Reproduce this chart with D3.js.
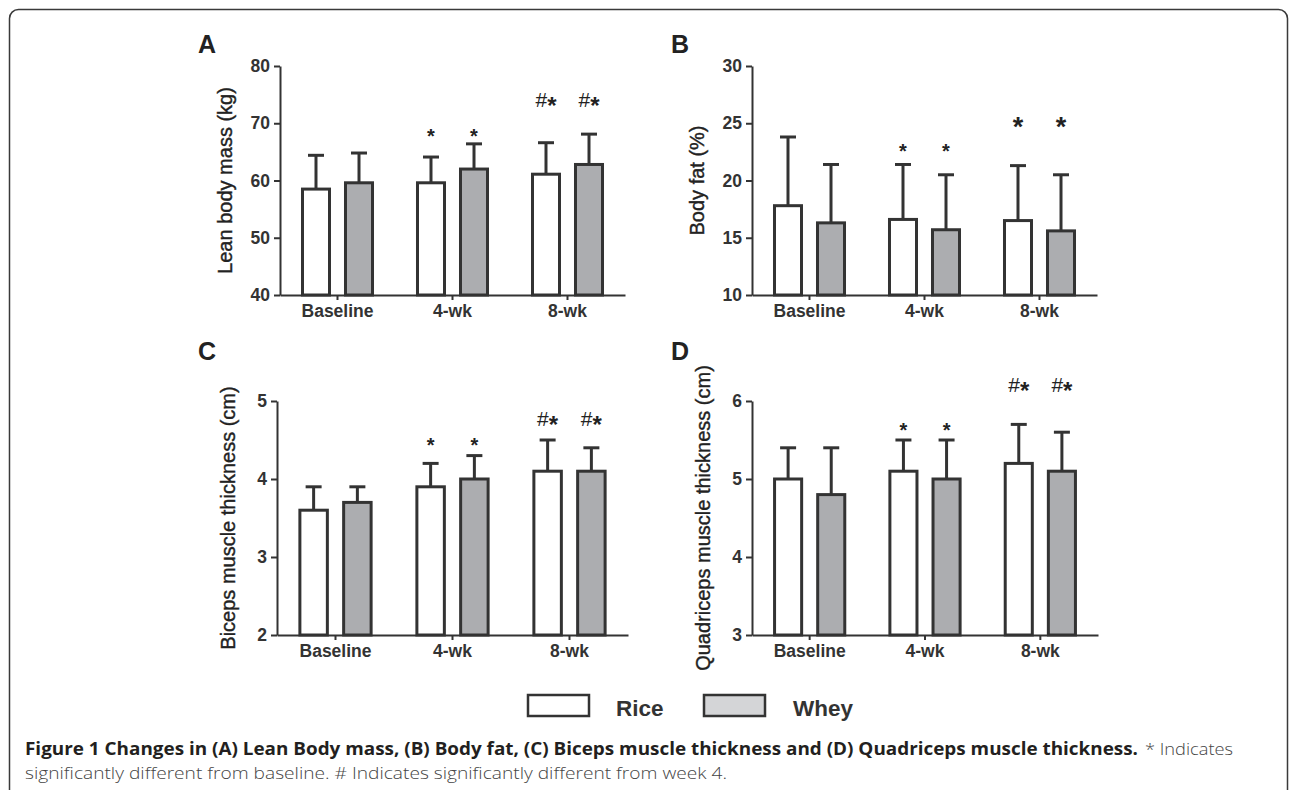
<!DOCTYPE html>
<html lang="en">
<head>
<meta charset="UTF-8">
<title>Figure 1</title>
<script src="https://d3js.org/d3.v7.min.js"></script>
<style>
  body { margin: 0; background: #fff; }
  svg { display: block; }
</style>
</head>
<body>
<svg id="fig" width="1290" height="790"></svg>
<script>
const categories = ["Baseline", "4-wk", "8-wk"];
const groups = ["Rice", "Whey"];

// A: lean body mass (kg)
const leanTicks = [40, 50, 60, 70, 80];
const leanRice = [58.5, 59.6, 61.1];
const leanRiceErr = [5.9, 4.5, 5.5];
const leanWhey = [59.6, 62.0, 62.8];
const leanWheyErr = [5.2, 4.4, 5.3];
const leanMarks = ["", "*", "#*"];
const leanMarkLevels = [null, 66.5, 72.8];

// B: body fat (%)
const fatTicks = [10, 15, 20, 25, 30];
const fatRice = [17.8, 16.6, 16.5];
const fatRiceErr = [6.0, 4.8, 4.8];
const fatWhey = [16.3, 15.7, 15.6];
const fatWheyErr = [5.1, 4.8, 4.9];
const fatMarks = ["", "*", "*"];
const fatMarkLevels = [null, 22.0, 23.9];

// C: biceps muscle thickness (cm)
const bicepsTicks = [2, 3, 4, 5];
const bicepsRice = [3.6, 3.9, 4.1];
const bicepsRiceErr = [0.3, 0.3, 0.4];
const bicepsWhey = [3.7, 4.0, 4.1];
const bicepsWheyErr = [0.2, 0.3, 0.3];
const bicepsMarks = ["", "*", "#*"];
const bicepsMarkLevels = [null, 4.34, 4.68];

// D: quadriceps muscle thickness (cm)
const quadTicks = [3, 4, 5, 6];
const quadRice = [5.0, 5.1, 5.2];
const quadRiceErr = [0.4, 0.4, 0.5];
const quadWhey = [4.8, 5.0, 5.1];
const quadWheyErr = [0.6, 0.5, 0.5];
const quadMarks = ["", "*", "#*"];
const quadMarkLevels = [null, 5.54, 6.12];

const ink = "#333";
const wheyFill = "#acadb0";
const font = "'Liberation Sans', Arial, sans-serif";

const panels = [
  { letter: "A", title: "Lean body mass (kg)", ticks: leanTicks, rice: leanRice, riceErr: leanRiceErr,
    whey: leanWhey, wheyErr: leanWheyErr, marks: leanMarks, levels: leanMarkLevels, starSizes: [0, 20, 24],
    x0: 280, x1: 625, top: 66, bottom: 295, titleX: 225, letterX: 198, letterY: 53 },
  { letter: "B", title: "Body fat (%)", ticks: fatTicks, rice: fatRice, riceErr: fatRiceErr,
    whey: fatWhey, wheyErr: fatWheyErr, marks: fatMarks, levels: fatMarkLevels, starSizes: [0, 20, 27],
    x0: 752, x1: 1097, top: 66, bottom: 295, titleX: 697, letterX: 671, letterY: 53 },
  { letter: "C", title: "Biceps muscle thickness (cm)", ticks: bicepsTicks, rice: bicepsRice, riceErr: bicepsRiceErr,
    whey: bicepsWhey, wheyErr: bicepsWheyErr, marks: bicepsMarks, levels: bicepsMarkLevels, starSizes: [0, 20, 24],
    x0: 277, x1: 628, top: 401, bottom: 635, titleX: 228, letterX: 198, letterY: 360 },
  { letter: "D", title: "Quadriceps muscle thickness (cm)", ticks: quadTicks, rice: quadRice, riceErr: quadRiceErr,
    whey: quadWhey, wheyErr: quadWheyErr, marks: quadMarks, levels: quadMarkLevels, starSizes: [0, 20, 24],
    x0: 752, x1: 1098, top: 401, bottom: 635, titleX: 703, letterX: 671, letterY: 360 }
];

const svg = d3.select("#fig");

// outer frame
svg.append("rect")
  .attr("x", 9.5).attr("y", 9.5)
  .attr("width", 1278).attr("height", 820)
  .attr("rx", 9)
  .attr("fill", "none")
  .attr("stroke", "#3a3a3a")
  .attr("stroke-width", 1.5);

panels.forEach(p => {
  const g = svg.append("g");

  const y = d3.scaleLinear()
    .domain(d3.extent(p.ticks))
    .range([p.bottom, p.top]);

  const x = d3.scaleBand()
    .domain(categories)
    .range([p.x0, p.x1]);

  const xs = d3.scaleBand()
    .domain(groups)
    .range([0, x.bandwidth()])
    .paddingInner(0.372)
    .paddingOuter(0.523);

  const rows = categories.map((c, i) => ({
    cat: c,
    bars: [
      { group: "Rice", value: p.rice[i], err: p.riceErr[i], fill: "#fff" },
      { group: "Whey", value: p.whey[i], err: p.wheyErr[i], fill: wheyFill }
    ]
  }));

  const bar = g.selectAll(".grp")
    .data(rows)
    .enter().append("g")
    .attr("transform", d => `translate(${x(d.cat)},0)`)
    .selectAll(".bar")
    .data(d => d.bars)
    .enter().append("g");

  // error bars (upper only)
  bar.append("line")
    .attr("x1", d => xs(d.group) + xs.bandwidth() / 2)
    .attr("x2", d => xs(d.group) + xs.bandwidth() / 2)
    .attr("y1", d => y(d.value))
    .attr("y2", d => y(d.value + d.err))
    .attr("stroke", ink).attr("stroke-width", 3);

  bar.append("line")
    .attr("x1", d => xs(d.group) + xs.bandwidth() / 2 - 8)
    .attr("x2", d => xs(d.group) + xs.bandwidth() / 2 + 8)
    .attr("y1", d => y(d.value + d.err))
    .attr("y2", d => y(d.value + d.err))
    .attr("stroke", ink).attr("stroke-width", 3);

  bar.append("rect")
    .attr("x", d => xs(d.group))
    .attr("width", xs.bandwidth())
    .attr("y", d => y(d.value))
    .attr("height", d => p.bottom - y(d.value))
    .attr("fill", d => d.fill)
    .attr("stroke", ink)
    .attr("stroke-width", 3);

  // significance marks
  rows.forEach((r, i) => {
    if (!p.marks[i]) return;
    r.bars.forEach(b => {
      const t = g.append("text")
        .attr("x", x(r.cat) + xs(b.group) + xs.bandwidth() / 2)
        .attr("y", y(p.levels[i]))
        .attr("text-anchor", "middle")
        .attr("font-family", font)
        .attr("fill", "#222");
      p.marks[i].split("").forEach(ch => {
        if (ch === "#") {
          t.append("tspan").attr("font-size", 21).text("#");
        } else {
          t.append("tspan")
            .attr("font-size", p.starSizes[i])
            .attr("font-weight", "bold")
            .attr("dy", p.marks[i].length > 1 ? "0.3em" : null)
            .text("*");
        }
      });
    });
  });

  // axes
  const yAxis = g.append("g")
    .attr("transform", `translate(${p.x0},0)`)
    .call(d3.axisLeft(y).tickValues(p.ticks).tickFormat(d3.format("d"))
      .tickSize(6).tickSizeOuter(0).tickPadding(4));

  const xAxis = g.append("g")
    .attr("transform", `translate(0,${p.bottom})`)
    .call(d3.axisBottom(x).tickSize(5).tickSizeOuter(0).tickPadding(5));

  [yAxis, xAxis].forEach(a => {
    a.select(".domain").attr("stroke", ink).attr("stroke-width", 2);
    a.selectAll(".tick line").attr("stroke", ink).attr("stroke-width", 2);
    a.selectAll(".tick text")
      .attr("fill", ink)
      .attr("font-family", font)
      .attr("font-weight", "bold")
      .attr("font-size", 17.5);
  });

  // y title
  g.append("text")
    .attr("transform", `translate(${p.titleX},${(p.top + p.bottom) / 2}) rotate(-90)`)
    .attr("text-anchor", "middle")
    .attr("dy", "0.35em")
    .attr("font-family", font)
    .attr("font-size", 20)
    .attr("fill", "#222")
    .attr("stroke", "#222")
    .attr("stroke-width", 0.4)
    .text(p.title);

  // panel letter
  g.append("text")
    .attr("x", p.letterX)
    .attr("y", p.letterY)
    .attr("font-family", font)
    .attr("font-weight", "bold")
    .attr("font-size", 25)
    .attr("fill", "#222")
    .text(p.letter);
});

// legend
const legendItems = [
  { name: "Rice", fill: "#fff", bx: 528, tx: 616 },
  { name: "Whey", fill: "#d4d5d7", bx: 704, tx: 793 }
];
const legend = svg.append("g");
legend.selectAll("rect")
  .data(legendItems)
  .enter().append("rect")
  .attr("x", d => d.bx).attr("y", 695)
  .attr("width", 61).attr("height", 21)
  .attr("fill", d => d.fill)
  .attr("stroke", ink)
  .attr("stroke-width", 2.5);
legend.selectAll("text")
  .data(legendItems)
  .enter().append("text")
  .attr("x", d => d.tx).attr("y", 716)
  .attr("font-family", font)
  .attr("font-weight", "bold")
  .attr("font-size", 22.5)
  .attr("fill", ink)
  .text(d => d.name);

// caption
const cap = svg.append("g").attr("font-family", "'Open Sans', sans-serif").attr("font-size", 17);
cap.append("text")
  .attr("x", 25).attr("y", 755)
  .attr("font-weight", "bold")
  .attr("fill", "#231f20")
  .attr("textLength", 1113)
  .attr("lengthAdjust", "spacingAndGlyphs")
  .text("Figure 1 Changes in (A) Lean Body mass, (B) Body fat, (C) Biceps muscle thickness and (D) Quadriceps muscle thickness.");
cap.append("text")
  .attr("x", 1145).attr("y", 755)
  .attr("font-weight", 300)
  .attr("fill", "#444")
  .attr("textLength", 88)
  .attr("lengthAdjust", "spacingAndGlyphs")
  .text("* Indicates");
cap.append("text")
  .attr("x", 25).attr("y", 779)
  .attr("font-weight", 300)
  .attr("fill", "#444")
  .attr("textLength", 702)
  .attr("lengthAdjust", "spacingAndGlyphs")
  .text("significantly different from baseline. # Indicates significantly different from week 4.");
</script>
</body>
</html>
